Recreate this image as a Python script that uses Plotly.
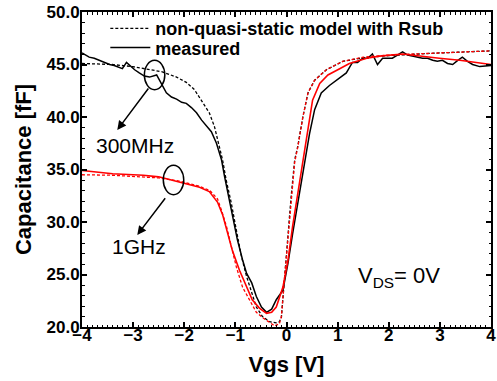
import plotly.graph_objects as go

# ---- data (Vgs in V, capacitance in fF) ----
meas300_x = [-4.0, -3.86, -3.76, -3.66, -3.56, -3.46, -3.37, -3.27, -3.21, -3.13, -3.07, -2.97, -2.88, -2.78,
             -2.68, -2.60, -2.54, -2.45, -2.35, -2.25, -2.15, -2.05, -1.96, -1.86, -1.76, -1.66, -1.55, -1.47,
             -1.37, -1.27, -1.21, -1.12, -1.02, -0.96, -0.86, -0.78, -0.68, -0.59, -0.49, -0.39, -0.29, -0.20,
             -0.07, 0.03, 0.12, 0.25, 0.35, 0.45, 0.55, 0.68, 0.84, 1.04, 1.17, 1.23, 1.29, 1.39, 1.49, 1.59,
             1.68, 1.78, 1.88, 1.98, 2.07, 2.17, 2.27, 2.37, 2.47, 2.56, 2.66, 2.76, 2.86, 2.95, 3.05, 3.15,
             3.25, 3.35, 3.44, 3.54, 3.64, 3.78, 4.0]
meas300_y = [46.1, 45.7, 45.6, 45.4, 45.2, 45.0, 44.9, 44.7, 44.6, 45.2, 44.9, 44.5, 44.2, 43.9,
             43.8, 43.9, 44.0, 43.2, 42.3, 41.9, 41.7, 41.4, 41.3, 40.9, 40.4, 39.7, 39.0, 38.6,
             37.5, 35.9, 34.3, 32.1, 29.5, 28.3, 26.4, 25.1, 24.2, 22.9, 21.9, 21.4, 21.7, 22.6,
             23.5, 26.1, 28.9, 32.7, 35.2, 38.4, 40.7, 42.3, 43.0, 43.7, 44.2, 44.7, 45.2, 45.2, 45.6, 45.6,
             46.0, 45.0, 45.6, 45.6, 45.6, 45.9, 46.2, 45.9, 45.8, 45.7, 45.6, 45.6, 45.4, 45.3, 45.4, 45.1,
             45.0, 45.4, 45.7, 45.3, 45.0, 44.8, 44.9]

model300_x = [-4.0, -3.41, -3.01, -2.74, -2.43, -2.15, -1.96, -1.80, -1.64, -1.51, -1.41, -1.31, -1.25, -1.18,
              -1.08, -0.98, -0.88, -0.78, -0.68, -0.59, -0.47, -0.33, -0.20, -0.14, -0.10, -0.04, 0.03, 0.09,
              0.16, 0.22, 0.32, 0.42, 0.55, 0.78, 1.10, 1.5, 2.0, 2.5, 3.0, 3.5, 4.0]
model300_y = [45.1, 45.0, 44.8, 44.6, 44.3, 43.8, 43.3, 42.6, 41.4, 40.4, 39.1, 37.2, 35.9, 34.0,
              31.8, 29.2, 26.7, 24.8, 23.2, 21.9, 21.0, 20.5, 20.4, 20.5, 20.9, 24.8, 28.6, 32.4,
              35.9, 37.2, 40.0, 42.3, 43.5, 44.5, 45.3, 45.65, 45.85, 46.0, 46.1, 46.2, 46.3]

meas1g_x = [-4.0, -3.4, -2.8, -2.5, -2.1, -1.7, -1.51, -1.35, -1.25, -1.15, -1.06, -0.92, -0.78, -0.67,
            -0.53, -0.39, -0.29, -0.20, -0.07, 0.03, 0.12, 0.22, 0.32, 0.42, 0.51, 0.65, 0.81, 1.04, 1.23,
            1.57, 1.82, 2.27, 2.60, 2.99, 3.39, 3.72, 4.0]
meas1g_y = [34.9, 34.6, 34.45, 34.3, 33.8, 33.3, 32.9, 31.9, 30.7, 29.0, 27.3, 25.4, 23.8, 22.6,
            21.8, 21.3, 21.4, 21.9, 23.8, 26.4, 29.6, 32.7, 35.9, 39.1, 41.6, 43.2, 44.0, 44.6, 45.1,
            45.6, 45.8, 46.0, 45.8, 45.6, 45.4, 45.2, 45.0]

model1g_x = [-4.0, -3.4, -2.5, -2.1, -1.7, -1.5, -1.35, -1.27, -1.17, -1.08, -0.98, -0.86, -0.72, -0.59,
             -0.47, -0.33, -0.23, -0.14, -0.10, -0.04, 0.03, 0.09, 0.16, 0.22, 0.32, 0.42, 0.55, 0.78, 1.10,
             1.5, 2.0, 2.5, 3.0, 3.5, 4.0]
model1g_y = [34.5, 34.45, 34.2, 33.9, 33.4, 33.0, 32.2, 31.1, 29.5, 27.6, 25.7, 23.8, 22.6, 21.4,
             20.9, 20.4, 20.1, 20.3, 21.0, 24.6, 28.4, 32.2, 35.7, 37.1, 40.0, 42.3, 43.5, 44.5, 45.3,
             45.7, 45.9, 46.0, 46.1, 46.2, 46.3]

legend_names = ["non-quasi-static model with Rsub", "measured"]
freq_labels = ["300MHz", "1GHz"]
bias_label = "V<sub>DS</sub>= 0V"

FONT = "Liberation Sans, Arial, Helvetica, sans-serif"

fig = go.Figure()
fig.add_trace(go.Scatter(x=model300_x, y=model300_y, mode="lines", name=legend_names[0], legend="legend",
                         line=dict(color="black", width=1.3, dash="3px,2px")))
fig.add_trace(go.Scatter(x=meas300_x, y=meas300_y, mode="lines", name=legend_names[1], legend="legend2",
                         line=dict(color="black", width=1.5)))
fig.add_trace(go.Scatter(x=model1g_x, y=model1g_y, mode="lines", showlegend=False,
                         line=dict(color="red", width=1.3, dash="3px,2px")))
fig.add_trace(go.Scatter(x=meas1g_x, y=meas1g_y, mode="lines", showlegend=False,
                         line=dict(color="red", width=1.6)))

# ellipses marking the two frequency groups
fig.add_shape(type="circle", xref="x", yref="y", x0=-2.78, x1=-2.38, y0=42.6, y1=45.4,
              line=dict(color="black", width=1.5))
fig.add_shape(type="circle", xref="x", yref="y", x0=-2.41, x1=-2.01, y0=32.6, y1=35.4,
              line=dict(color="black", width=1.5))

# arrows
fig.add_annotation(x=-3.31, y=38.76, ax=-2.68, ay=42.86, xref="x", yref="y", axref="x", ayref="y",
                   text="", showarrow=True, arrowhead=2, arrowsize=1.2, arrowwidth=1.5, arrowcolor="black")
fig.add_annotation(x=-2.92, y=28.76, ax=-2.35, ay=32.4, xref="x", yref="y", axref="x", ayref="y",
                   text="", showarrow=True, arrowhead=2, arrowsize=1.2, arrowwidth=1.5, arrowcolor="black")

fig.add_annotation(x=-2.97, y=37.33, text=freq_labels[0], showarrow=False,
                   font=dict(family=FONT, size=21, color="black"))
fig.add_annotation(x=-2.88, y=27.62, text=freq_labels[1], showarrow=False,
                   font=dict(family=FONT, size=21, color="black"))
fig.add_annotation(x=2.21, y=24.76, text=bias_label, showarrow=False,
                   font=dict(family=FONT, size=22, color="black"))

axis_common = dict(showline=True, linewidth=2, linecolor="black", mirror="allticks",
                   ticks="inside", ticklen=5, tickwidth=1.5, tickcolor="black",
                   showgrid=False, zeroline=False, automargin=False,
                   tickfont=dict(family=FONT, size=17, color="black", weight="bold"),
                   title_font=dict(family=FONT, size=22, color="black", weight="bold"))

fig.update_xaxes(range=[-4, 4], dtick=1, tick0=0, title_text="Vgs [V]", title_standoff=12,
                 ticklabelstandoff=-8,
                 minor=dict(dtick=0.1, ticks="inside", ticklen=2.5, tickwidth=1, tickcolor="black"),
                 **axis_common)
fig.update_yaxes(range=[20, 50], dtick=5, tick0=0, tickformat=".1f", title_text="Capacitance [fF]",
                 title_standoff=9, ticklabelstandoff=-3,
                 minor=dict(dtick=1, ticks="inside", ticklen=2.5, tickwidth=1, tickcolor="black"),
                 **axis_common)

legend_font = dict(family=FONT, size=18, color="black", weight="bold")
fig.update_layout(
    width=497, height=381,
    margin=dict(l=82, r=6, t=12, b=54),
    plot_bgcolor="white", paper_bgcolor="white",
    showlegend=True,
    legend=dict(x=0.057, y=1.006, xanchor="left", yanchor="top", bgcolor="rgba(0,0,0,0)",
                font=legend_font, itemwidth=40),
    legend2=dict(x=0.057, y=0.945, xanchor="left", yanchor="top", bgcolor="rgba(0,0,0,0)",
                 font=legend_font, itemwidth=40),
)

fig.write_html("out.html", config={"displayModeBar": False},
               post_script="document.body.style.margin='0';document.body.style.overflow='hidden';")
